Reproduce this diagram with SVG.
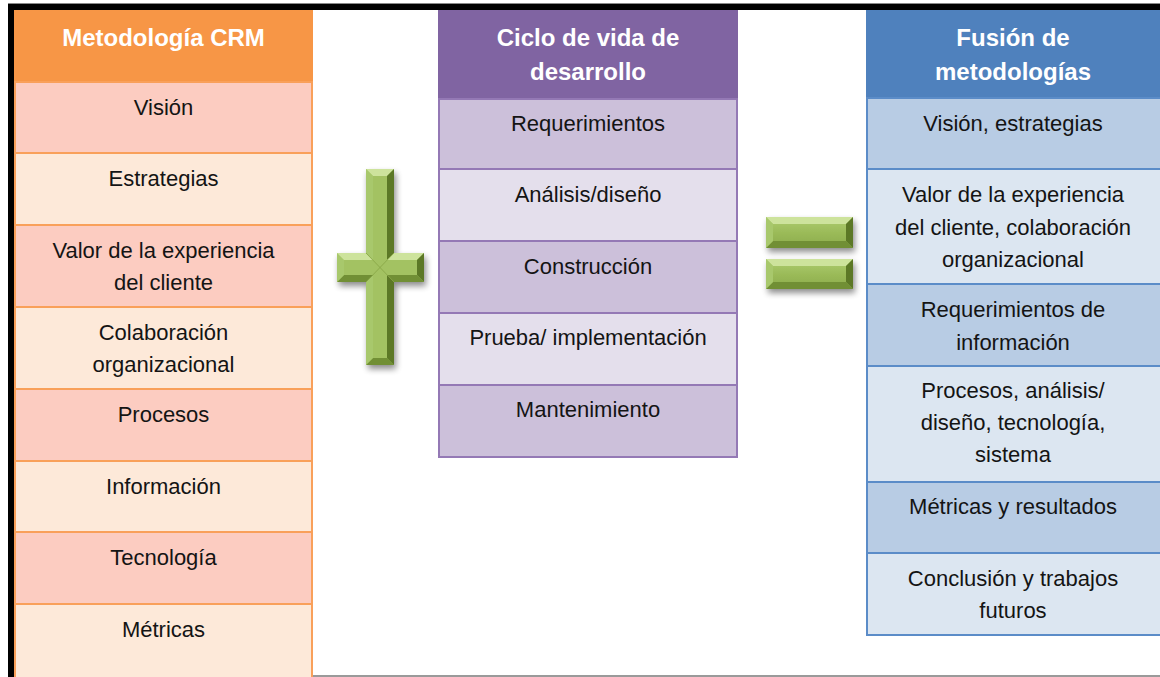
<svg xmlns="http://www.w3.org/2000/svg" width="1160" height="677" viewBox="0 0 1160 677">
<defs>
<style>
.t{font-family:"Liberation Sans",Arial,sans-serif;font-size:22px;fill:#141414;text-anchor:middle}
.h{font-family:"Liberation Sans",Arial,sans-serif;font-size:24px;font-weight:bold;fill:#ffffff;text-anchor:middle}
.o{stroke:#F9A05A;stroke-width:2}
.p{stroke:#9479B5;stroke-width:2}
.b{stroke:#5B8CC8;stroke-width:2}
.fl{fill:#CDE39C}
.fd{fill:#5C7828}
.fb{fill:#718F36}
.fL{fill:#A8C86C}
.face{fill:url(#gface)}
</style>
<linearGradient id="gface" x1="0" y1="0" x2="0" y2="1">
<stop offset="0" stop-color="#AECD70"/>
<stop offset="0.5" stop-color="#9BBB59"/>
<stop offset="1" stop-color="#8BAB4A"/>
</linearGradient>
<filter id="sh" x="-30%" y="-30%" width="160%" height="160%">
<feGaussianBlur in="SourceAlpha" stdDeviation="3"/>
<feOffset dx="2" dy="4" result="b"/>
<feComponentTransfer><feFuncA type="linear" slope="0.45"/></feComponentTransfer>
<feMerge><feMergeNode/><feMergeNode in="SourceGraphic"/></feMerge>
</filter>
</defs>
<rect width="1160" height="677" fill="#ffffff"/>
<!-- frame -->
<rect x="8" y="3" width="1152" height="1" fill="#888888"/>
<rect x="8" y="4" width="1152" height="6" fill="#000000"/>
<rect x="8" y="4" width="6" height="673" fill="#000000"/>
<rect x="313" y="675" width="847" height="2" fill="#9a9a9a"/>

<!-- Left column -->
<g id="crm">
<g id="crm-header"><rect x="14" y="10" width="299" height="72" fill="#F79646"/><text class="h" x="163.5" y="46">Metodología CRM</text></g>
<g id="crm-vision"><rect class="o" x="15" y="82" width="297" height="71" fill="#FCCCC1"/><text class="t" x="163.5" y="115">Visión</text></g>
<g id="crm-estrategias"><rect class="o" x="15" y="153" width="297" height="72" fill="#FDE9D9"/><text class="t" x="163.5" y="186">Estrategias</text></g>
<g id="crm-valor"><rect class="o" x="15" y="225" width="297" height="82" fill="#FCCCC1"/><text class="t" x="163.5" y="258">Valor de la experiencia</text><text class="t" x="163.5" y="290">del cliente</text></g>
<g id="crm-colaboracion"><rect class="o" x="15" y="307" width="297" height="82" fill="#FDE9D9"/><text class="t" x="163.5" y="340">Colaboración</text><text class="t" x="163.5" y="372">organizacional</text></g>
<g id="crm-procesos"><rect class="o" x="15" y="389" width="297" height="72" fill="#FCCCC1"/><text class="t" x="163.5" y="422">Procesos</text></g>
<g id="crm-informacion"><rect class="o" x="15" y="461" width="297" height="71" fill="#FDE9D9"/><text class="t" x="163.5" y="494">Información</text></g>
<g id="crm-tecnologia"><rect class="o" x="15" y="532" width="297" height="72" fill="#FCCCC1"/><text class="t" x="163.5" y="565">Tecnología</text></g>
<g id="crm-metricas"><rect class="o" x="15" y="604" width="297" height="74" fill="#FDE9D9"/><text class="t" x="163.5" y="637">Métricas</text></g>
</g>

<!-- Middle column -->
<g id="ciclo">
<g id="ciclo-header"><rect x="438" y="10" width="300" height="89" fill="#8064A2"/><text class="h" x="588" y="46">Ciclo de vida de</text><text class="h" x="588" y="80">desarrollo</text></g>
<g id="ciclo-requerimientos"><rect class="p" x="439" y="99" width="298" height="70" fill="#CCC0DA"/><text class="t" x="588" y="131">Requerimientos</text></g>
<g id="ciclo-analisis"><rect class="p" x="439" y="169" width="298" height="72" fill="#E4DFEC"/><text class="t" x="588" y="202">Análisis/diseño</text></g>
<g id="ciclo-construccion"><rect class="p" x="439" y="241" width="298" height="72" fill="#CCC0DA"/><text class="t" x="588" y="274">Construcción</text></g>
<g id="ciclo-prueba"><rect class="p" x="439" y="313" width="298" height="72" fill="#E4DFEC"/><text class="t" x="588" y="345">Prueba/ implementación</text></g>
<g id="ciclo-mantenimiento"><rect class="p" x="439" y="385" width="298" height="72" fill="#CCC0DA"/><text class="t" x="588" y="417">Mantenimiento</text></g>
</g>

<!-- Right column -->
<g id="fusion">
<g id="fusion-header"><rect x="866" y="10" width="294" height="88" fill="#4F81BD"/><text class="h" x="1013" y="46">Fusión de</text><text class="h" x="1013" y="80">metodologías</text></g>
<g id="fusion-vision"><rect class="b" x="867" y="98" width="296" height="71" fill="#B8CCE4"/><text class="t" x="1013" y="131">Visión, estrategias</text></g>
<g id="fusion-valor"><rect class="b" x="867" y="169" width="296" height="115" fill="#DCE6F1"/><text class="t" x="1013" y="202">Valor de la experiencia</text><text class="t" x="1013" y="235">del cliente, colaboración</text><text class="t" x="1013" y="267">organizacional</text></g>
<g id="fusion-requerimientos"><rect class="b" x="867" y="284" width="296" height="82" fill="#B8CCE4"/><text class="t" x="1013" y="317">Requerimientos de</text><text class="t" x="1013" y="350">información</text></g>
<g id="fusion-procesos"><rect class="b" x="867" y="366" width="296" height="116" fill="#DCE6F1"/><text class="t" x="1013" y="398">Procesos, análisis/</text><text class="t" x="1013" y="430">diseño, tecnología,</text><text class="t" x="1013" y="462">sistema</text></g>
<g id="fusion-metricas"><rect class="b" x="867" y="482" width="296" height="71" fill="#B8CCE4"/><text class="t" x="1013" y="514">Métricas y resultados</text></g>
<g id="fusion-conclusion"><rect class="b" x="867" y="553" width="296" height="82" fill="#DCE6F1"/><text class="t" x="1013" y="586">Conclusión y trabajos</text><text class="t" x="1013" y="618">futuros</text></g>
</g>

<!-- Plus sign -->
<g id="plus" filter="url(#sh)">
<polygon class="face" points="366,169 394,169 394,253 424,253 424,282 394,282 394,365 366,365 366,282 337,282 337,253 366,253"/>
<polygon class="fl" points="366,169 394,169 387,176 373,176"/>
<polygon class="fd" points="394,169 394,253 387,260 387,176"/>
<polygon class="fl" points="394,253 424,253 417,260 387,260"/>
<polygon class="fd" points="424,253 424,282 417,275 417,260"/>
<polygon class="fb" points="424,282 394,282 387,275 417,275"/>
<polygon class="fd" points="394,282 394,365 387,358 387,275"/>
<polygon class="fb" points="394,365 366,365 373,358 387,358"/>
<polygon class="fL" points="366,365 366,282 373,275 373,358"/>
<polygon class="fb" points="366,282 337,282 344,275 373,275"/>
<polygon class="fL" points="337,282 337,253 344,260 344,275"/>
<polygon class="fl" points="337,253 366,253 373,260 344,260"/>
<polygon class="fL" points="366,253 366,169 373,176 373,260"/>
<polygon fill="#A3C262" points="373,176 387,176 387,260 417,260 417,275 387,275 387,358 373,358 373,275 344,275 344,260 373,260"/>
<path d="M366,253 L394,282 M394,253 L366,282" stroke="#86A544" stroke-width="0.8" fill="none"/>
</g>

<!-- Equals sign -->
<g id="equals" filter="url(#sh)">
<rect class="face" x="766" y="217" width="87" height="31"/>
<polygon class="fl" points="766,217 853,217 846,224 773,224"/>
<polygon class="fd" points="853,217 853,248 846,241 846,224"/>
<polygon class="fb" points="853,248 766,248 773,241 846,241"/>
<polygon class="fL" points="766,248 766,217 773,224 773,241"/>
<rect class="face" x="766" y="259" width="87" height="30"/>
<polygon class="fl" points="766,259 853,259 846,266 773,266"/>
<polygon class="fd" points="853,259 853,289 846,282 846,266"/>
<polygon class="fb" points="853,289 766,289 773,282 846,282"/>
<polygon class="fL" points="766,289 766,259 773,266 773,282"/>
</g>

<g id="connectors"/>
</svg>
